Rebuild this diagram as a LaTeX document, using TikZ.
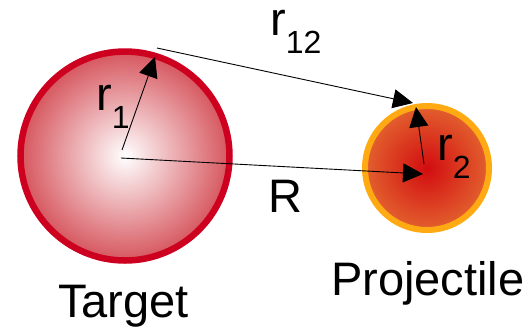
\documentclass[tikz,border=0pt]{standalone}
\usepackage{fontspec}
\setmainfont{Liberation Sans}
\usetikzlibrary{arrows.meta}
\definecolor{targetRim}{HTML}{CE0020}
\definecolor{targetEdge}{HTML}{D6565E}
\definecolor{projRim}{HTML}{FFAA12}
\definecolor{projCore}{HTML}{D20C10}
\definecolor{projEdge}{HTML}{E2602E}
\newcommand{\vecLbl}[2]{#1\raisebox{-18pt}{\fontsize{32}{32}\selectfont #2}}

\begin{document}
\begin{tikzpicture}[x=1pt,y=-1pt]
\tikzset{
    ball/.style={circle,inner sep=0pt,line width=6.5pt},
    vecArrow/.style={line width=0.9pt,-{Triangle[length=20pt,width=19pt]}},
    lbl/.style={anchor=base west,inner sep=0pt,font=\fontsize{47}{47}\selectfont},
}
\useasboundingbox (0,0) rectangle (530,330);
\node[ball,minimum size=209pt,draw=targetRim,inner color=white,outer color=targetEdge] (target) at (125,156) {};
\node[ball,minimum size=124pt,draw=projRim,line width=6pt,inner color=projCore,outer color=projEdge] (proj) at (427,168) {};

\coordinate (r1Tail) at (122,150);
\coordinate (r1Tip) at (155,57);
\coordinate (RTail) at (121,158);
\coordinate (RTip) at (423,174);
\coordinate (r12Tail) at (157,48);
\coordinate (r12Tip) at (413,103);
\coordinate (r2Tail) at (424,164);
\coordinate (r2Tip) at (416,107);

\draw[vecArrow] (r1Tail) -- (r1Tip);
\draw[vecArrow] (RTail) -- (RTip);
\draw[vecArrow] (r12Tail) -- (r12Tip);
\draw[vecArrow] (r2Tail) -- (r2Tip);

\foreach \x/\y/\n/\t in {
    96/110/r1/\vecLbl{r}{1}, 270/35/r12/\vecLbl{r}{12}, 437/160/r2/\vecLbl{r}{2},
    268/212/Rlbl/R, 58/317/tgt/Target, 331/295/prj/Projectile
} {
    \node[lbl] (\n) at (\x,\y) {\t};
}
\end{tikzpicture}
\end{document}
